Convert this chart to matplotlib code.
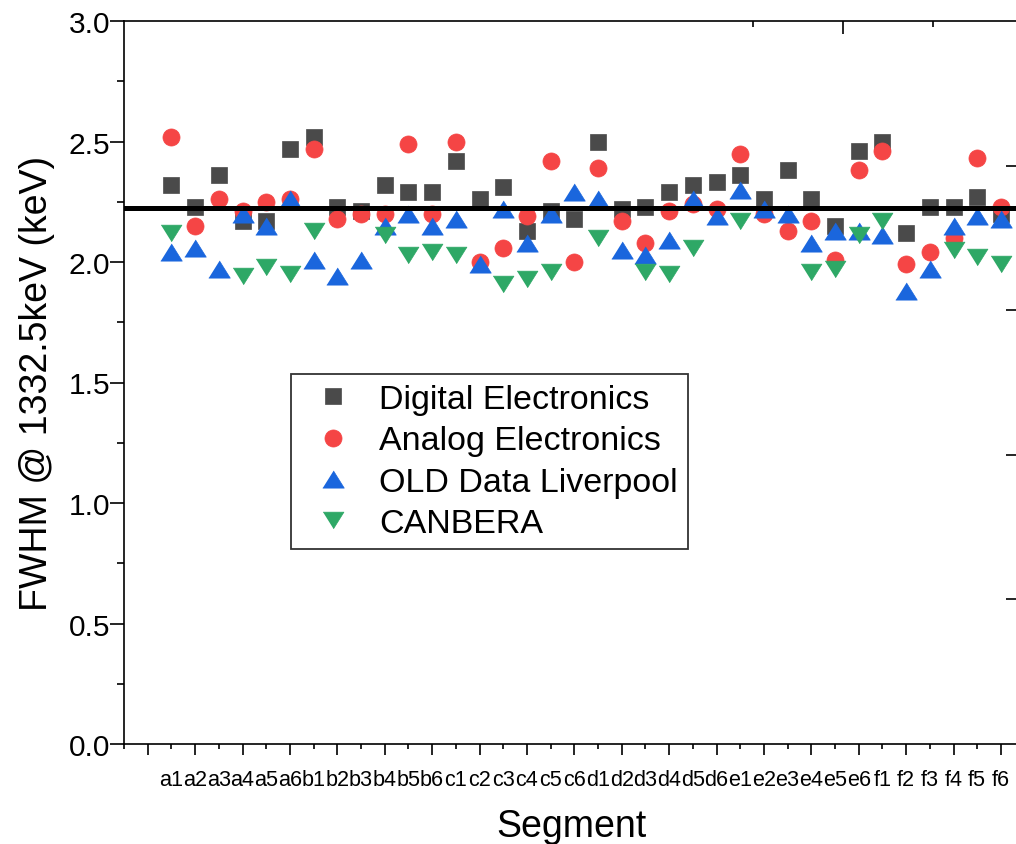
import numpy as np
import matplotlib
matplotlib.use("Agg")
import matplotlib.pyplot as plt
from matplotlib.ticker import FixedLocator, NullFormatter

plt.rcParams['font.family'] = ['Liberation Sans', 'DejaVu Sans']

nan = np.nan
segments = ['a1', 'a2', 'a3', 'a4', 'a5', 'a6',
            'b1', 'b2', 'b3', 'b4', 'b5', 'b6',
            'c1', 'c2', 'c3', 'c4', 'c5', 'c6',
            'd1', 'd2', 'd3', 'd4', 'd5', 'd6',
            'e1', 'e2', 'e3', 'e4', 'e5', 'e6',
            'f1', 'f2', 'f3', 'f4', 'f5', 'f6']

digital = [2.32, 2.23, 2.36, 2.17, 2.17, 2.47, 2.52, 2.23, 2.21, 2.32, 2.29, 2.29,
           2.42, 2.26, 2.31, 2.13, 2.21, 2.18, 2.50, 2.22, 2.23, 2.29, 2.32, 2.33,
           2.36, 2.26, 2.38, 2.26, 2.15, 2.46, 2.50, 2.12, 2.23, 2.23, 2.27, 2.20]
analog = [2.52, 2.15, 2.26, 2.21, 2.25, 2.26, 2.47, 2.18, 2.20, 2.20, 2.49, 2.20,
          2.50, 2.00, 2.06, 2.19, 2.42, 2.00, 2.39, 2.17, 2.08, 2.21, 2.24, 2.22,
          2.45, 2.20, 2.13, 2.17, 2.01, 2.38, 2.46, 1.99, 2.04, 2.10, 2.43, 2.23]
old_liverpool = [2.04, 2.06, 1.97, 2.20, 2.15, 2.26, 2.01, 1.94, 2.01, 2.15, 2.20, 2.15,
                 2.18, 1.99, 2.22, 2.08, 2.20, 2.29, 2.26, 2.05, 2.03, 2.09, 2.26, 2.19,
                 2.30, 2.22, 2.20, 2.08, 2.13, 2.13, 2.11, 1.88, 1.97, 2.15, 2.19, 2.18]
canberra = [2.12, nan, nan, 1.94, 1.98, 1.95, 2.13, nan, nan, 2.11, 2.03, 2.04,
            2.03, nan, 1.91, 1.93, 1.96, nan, 2.10, nan, 1.96, 1.95, 2.06, nan,
            2.17, nan, nan, 1.96, 1.97, 2.11, 2.17, nan, nan, 2.05, 2.02, 1.99]
mean_fwhm = 2.225

series_labels = ['Digital Electronics', 'Analog Electronics', 'OLD Data Liverpool', 'CANBERA']
colors = ['#4a4a4a', '#f54545', '#1a66dd', '#2ea866']

x = np.arange(1, len(segments) + 1)

fig = plt.figure(figsize=(10.16, 8.45), dpi=100)
ax = fig.add_axes([124/1016, 100/845, 894/1016, 723/845])

up_tri = [(-1, -0.8), (1, -0.8), (0, 0.8)]
down_tri = [(-1, 0.8), (1, 0.8), (0, -0.8)]

ax.plot(x, digital, linestyle='none', marker='s', ms=11.3, color=colors[0],
        mec=colors[0], mew=0.5, label=series_labels[0], zorder=3)
ax.plot(x, analog, linestyle='none', marker='o', ms=12.3, color=colors[1],
        mec=colors[1], mew=0.5, label=series_labels[1], zorder=4)
ax.plot(x, old_liverpool, linestyle='none', marker=up_tri, ms=15.5, color=colors[2],
        mec=colors[2], mew=0.5, label=series_labels[2], zorder=5)
ax.plot(x, canberra, linestyle='none', marker=down_tri, ms=15, color=colors[3],
        mec=colors[3], mew=0.5, label=series_labels[3], zorder=6)
ax.axhline(mean_fwhm, color='black', lw=3.6, zorder=7)

ax.set_xlim(-1, -1 + 894/23.7)
ax.set_ylim(0, 3.0)

for s in ax.spines.values():
    s.set_linewidth(1.2)

# x ticks: major at even positions, minor at odd, labels on both
even_pos = list(range(0, 37, 2))
odd_pos = list(range(-1, 37, 2))
even_labels = [segments[p - 1] if 1 <= p <= 36 else '' for p in even_pos]
odd_labels = [segments[p - 1] if 1 <= p <= 36 else '' for p in odd_pos]
ax.set_xticks(even_pos, labels=even_labels)
ax.set_xticks(odd_pos, labels=odd_labels, minor=True)
ax.tick_params(axis='x', which='major', direction='out', length=8, width=1.2,
               labelsize=15.6, pad=10, top=False)
ax.tick_params(axis='x', which='minor', direction='out', length=3.6, width=1.2,
               labelsize=15.6, pad=10 + 4.4, top=False)

ax.set_yticks(np.arange(0, 3.01, 0.5))
ax.set_yticklabels(['0.0', '0.5', '1.0', '1.5', '2.0', '2.5', '3.0'])
ax.yaxis.set_minor_locator(FixedLocator(np.arange(0.25, 3.0, 0.5)))
ax.tick_params(axis='y', which='major', direction='out', length=10, width=1.2,
               labelsize=21.5, pad=0, right=False)
ax.tick_params(axis='y', which='minor', direction='out', length=5, width=1.2, right=False)

ax.set_xlabel('Segment', fontsize=27, labelpad=13)
ax.set_ylabel('FWHM @ 1332.5keV (keV)', fontsize=27, labelpad=10)

# extra inward ticks on top and right edges
axr = ax.twinx()
axr.set_ylim(0, 3.0)
axr.set_yticks([0.6, 1.2, 1.8, 2.4])
axr.yaxis.set_major_formatter(NullFormatter())
axr.tick_params(axis='y', direction='in', length=9, width=1.2)
for s in axr.spines.values():
    s.set_visible(False)

axt = ax.twiny()
axt.set_xlim(ax.get_xlim())
axt.set_xticks([29.32])
axt.set_xticks([25.53, 33.12], minor=True)
axt.xaxis.set_major_formatter(NullFormatter())
axt.tick_params(axis='x', which='major', direction='in', length=9.5, width=1.2)
axt.tick_params(axis='x', which='minor', direction='in', length=4.5, width=1.2)
for s in axt.spines.values():
    s.set_visible(False)

leg = ax.legend(loc='upper left', bbox_to_anchor=(291/1016, (845-375)/845),
                bbox_transform=fig.transFigure, borderaxespad=0, fontsize=24.5,
                frameon=True, fancybox=False, edgecolor='black', numpoints=1,
                handlelength=1.85, handletextpad=0.45, labelspacing=0.3,
                borderpad=0.3)
leg.get_frame().set_linewidth(1.3)
leg.set_zorder(10)

fig.savefig('out.png', dpi=100)
